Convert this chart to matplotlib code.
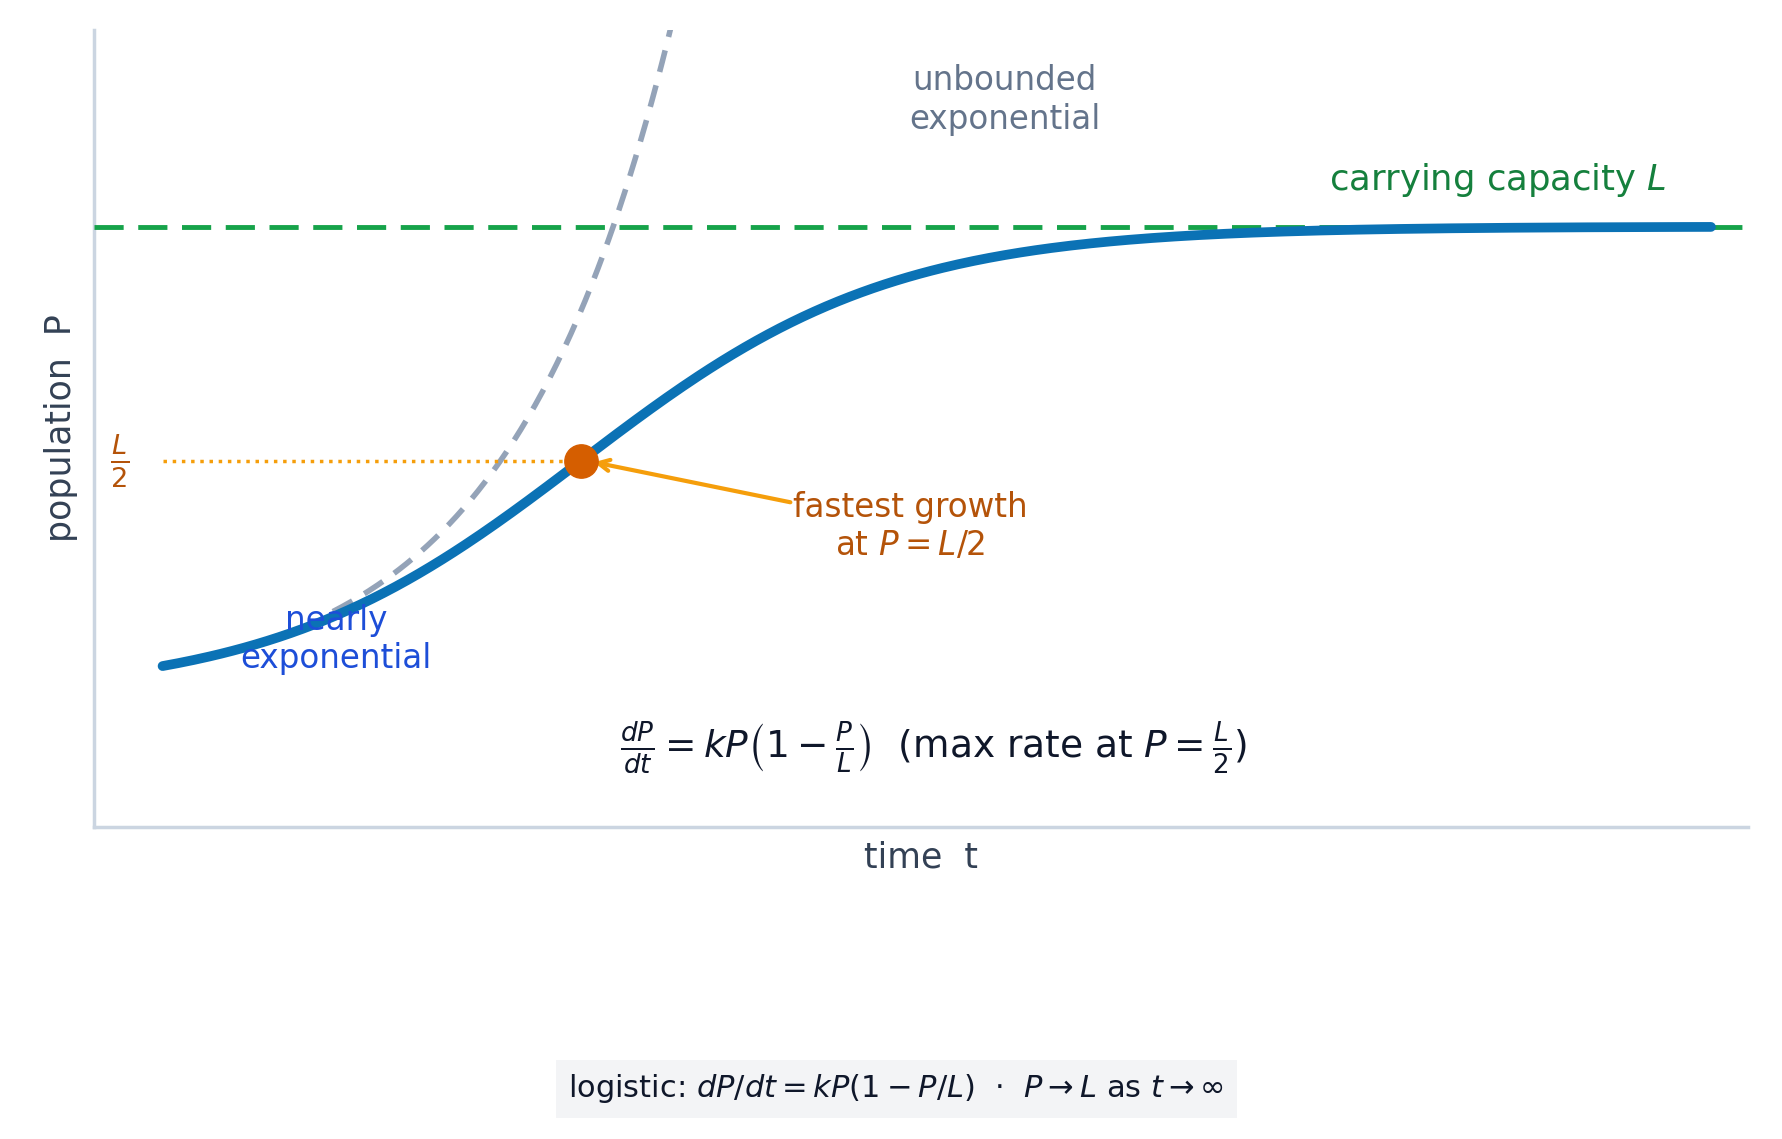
import numpy as np
import matplotlib
matplotlib.use("Agg")
import matplotlib.pyplot as plt

# data
t_start, t_end = 0.0, 10.0
k_rate = 1.0
t_mid = 2.7
L_cap = 1.0
exp_a, exp_b = 0.063, 0.95
exp_t_range = [1.1, 3.4]

t = np.linspace(t_start, t_end, 400)
P = L_cap / (1 + np.exp(-k_rate * (t - t_mid)))
te = np.linspace(exp_t_range[0], exp_t_range[1], 200)
Pe = exp_a * np.exp(exp_b * te)

fig = plt.figure(figsize=(17.82, 11.39), dpi=100)
ax = fig.add_axes([0.053, 0.274, 0.928, 0.70])
ax.set_xlim(-0.44, 10.24)
ax.set_ylim(-0.28, 1.42)

ax.plot(te, Pe, ls=(0, (4, 2.5)), color="#94a3b8", lw=4, zorder=2)
ax.axhline(L_cap, color="#16a34a", lw=3.5, ls=(0, (6, 3)), zorder=3)
ax.plot(t, P, color="#0b72b5", lw=7, solid_capstyle="round", zorder=4)
ax.plot([t_start, t_mid], [L_cap/2, L_cap/2], color="#f59e0b", lw=2.5, ls=":", zorder=3)
ax.plot([t_mid], [L_cap/2], "o", color="#d55e00", ms=24, zorder=5)

ax.annotate("fastest growth\nat $P = L/2$", xy=(t_mid + 0.05, L_cap/2), xytext=(4.83, 0.36),
            ha="center", va="center", fontsize=23.5, color="#b45309",
            arrowprops=dict(arrowstyle="->", color="#f59e0b", lw=3, shrinkA=0, shrinkB=4, mutation_scale=20))
ax.text(5.44, 1.27, "unbounded\nexponential", ha="center", va="center", fontsize=23.5, color="#64748b")
ax.text(8.62, 1.10, "carrying capacity $L$", ha="center", va="center", fontsize=25.5, color="#15803d")
ax.text(-0.28, 0.5, r"$\frac{L}{2}$", ha="center", va="center", fontsize=28, color="#b45309")
ax.text(1.12, 0.12, "nearly\nexponential", ha="center", va="center", fontsize=23.5, color="#1d4ed8", zorder=6)
ax.text(4.98, -0.11, r"$\frac{dP}{dt} = kP\left(1-\frac{P}{L}\right)$  (max rate at $P=\frac{L}{2}$)",
        ha="center", va="center", fontsize=27, color="#0f172a")

ax.set_xticks([]); ax.set_yticks([])
for s in ["top", "right"]:
    ax.spines[s].set_visible(False)
for s in ["left", "bottom"]:
    ax.spines[s].set_color("#cbd5e1"); ax.spines[s].set_linewidth(2.5)
ax.set_xlabel("time  t", fontsize=25, color="#334155", labelpad=10)
ax.set_ylabel("population  P", fontsize=25, color="#334155", labelpad=12)

fig.text(0.503, 0.044, r"logistic: $dP/dt = kP(1-P/L)$  $\cdot$  $P \to L$ as $t \to \infty$",
         ha="center", va="center", fontsize=22, color="#0f172a",
         bbox=dict(boxstyle="square,pad=0.4", fc="#f3f4f6", ec="none"))

fig.savefig("out.png", dpi=100)
